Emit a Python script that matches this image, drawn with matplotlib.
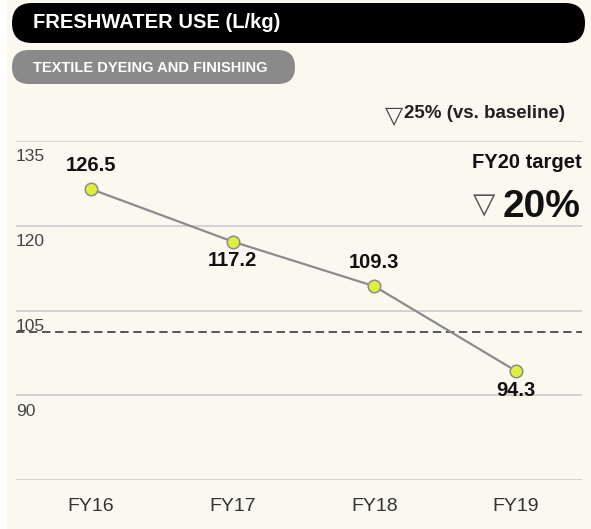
import matplotlib.pyplot as plt
from matplotlib.patches import FancyBboxPatch, Rectangle

years = ["FY16", "FY17", "FY18", "FY19"]
freshwater = [126.5, 117.2, 109.3, 94.3]
label_side = ["above", "below", "above", "below"]
target_value = 101.2
y_ticks = [75, 90, 105, 120, 135]
y_labels = ["", "90", "105", "120", "135"]

bg = "#fbf8f0"
line_color = "#8c8c8c"
marker_color = "#dcf03c"
grid_color = "#d0d0d0"
font = ["Liberation Sans", "DejaVu Sans"]

plt.rcParams["font.family"] = font

W, H = 591, 529
fig = plt.figure(figsize=(W / 100, H / 100), dpi=100, facecolor=bg)

# full-figure overlay in pixel units for header pills and top-right notes
over = fig.add_axes([0, 0, 1, 1], zorder=0)
over.set_xlim(0, W)
over.set_ylim(H, 0)
over.axis("off")
over.add_patch(Rectangle((0, 0), 7, H, color="white", lw=0))
over.add_patch(FancyBboxPatch((12, 3), 573, 40, boxstyle="round,pad=0,rounding_size=20",
                              fc="black", ec="none"))
over.add_patch(FancyBboxPatch((12, 50), 283, 34, boxstyle="round,pad=0,rounding_size=17",
                              fc="#8a8a8a", ec="none"))
over.text(33, 23, "FRESHWATER USE (L/kg)", color="white", fontsize=14.5, fontweight="bold",
          va="center", ha="left")
over.text(33, 67.5, "TEXTILE DYEING AND FINISHING", color="white", fontsize=10.5,
          fontweight="bold", va="center", ha="left")

over.text(403, 116, "▽", family="DejaVu Sans", fontsize=17, color="#444", ha="right", va="center")
over.text(404, 114, "25% (vs. baseline)", fontsize=13.5, fontweight="bold", color="#222",
          ha="left", va="center")
over.text(582, 162, "FY20 target", fontsize=14.5, fontweight="bold", color="#111",
          ha="right", va="center")
over.text(580, 217, "20%", fontsize=28, fontweight="bold", color="#111", ha="right", va="baseline")
over.text(495, 205, "▽", family="DejaVu Sans", fontsize=21, color="#555", ha="right", va="center")

# main chart
ax = fig.add_axes([16 / W, 1 - 480 / H, (582 - 16) / W, (480 - 141) / H], zorder=1)
ax.patch.set_visible(False)
x = list(range(len(years)))

ax.set_ylim(75, 135)
ax.set_xlim(-0.529, 3.466)
ax.set_yticks(y_ticks)
ax.set_yticklabels([])
ax.yaxis.grid(True, color=grid_color, lw=1.3)
ax.set_axisbelow(True)
for s in ax.spines.values():
    s.set_visible(False)
ax.tick_params(axis="y", length=0)
ax.set_xticks(x)
ax.set_xticklabels(years)
ax.tick_params(axis="x", length=0, pad=13, labelsize=14, labelcolor="#333")

for v, lab in zip(y_ticks, y_labels):
    ax.annotate(lab, xy=(0, v), xycoords=("axes fraction", "data"), xytext=(0, -6),
                textcoords="offset points", ha="left", va="top", fontsize=12.5, color="#444")

ax.axhline(target_value, color="#555", lw=1.4, dashes=(4.3, 2.4), zorder=1)

ax.plot(x, freshwater, color=line_color, lw=1.6, zorder=2)
ax.plot(x, freshwater, "o", ms=9, mfc=marker_color, mec=line_color, mew=1.1, zorder=3)

for xi, v, side in zip(x, freshwater, label_side):
    if side == "above":
        ax.annotate(f"{v}", (xi, v), xytext=(0, 10), textcoords="offset points",
                    ha="center", va="bottom", fontsize=14.5, fontweight="bold", color="#111")
    else:
        ax.annotate(f"{v}", (xi, v), xytext=(0, -7), textcoords="offset points",
                    ha="center", va="top", fontsize=14.5, fontweight="bold", color="#111")

fig.savefig("out.png", dpi=100, facecolor=bg)
